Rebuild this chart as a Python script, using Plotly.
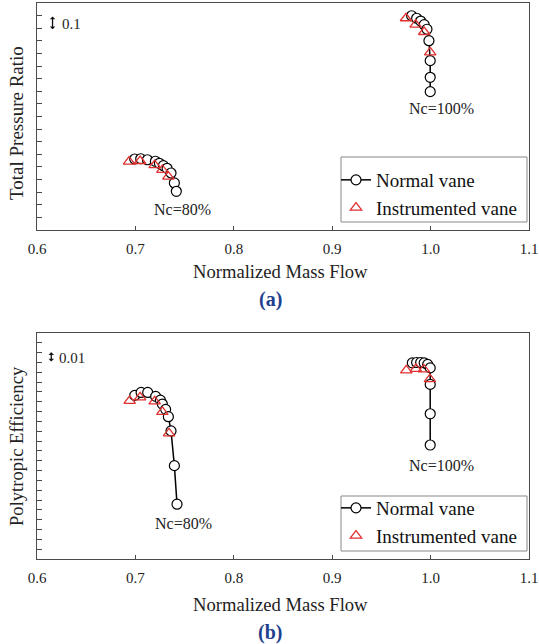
import plotly.graph_objects as go

# ---------------- data ----------------
# Panel (a): total pressure ratio (arbitrary offset; one tick = 0.1)
a_normal_80_x = [0.6993, 0.7054, 0.7122, 0.7203, 0.7244, 0.7284, 0.7322, 0.7362, 0.7396, 0.7416]
a_normal_80_y = [1.563, 1.565, 1.557, 1.545, 1.529, 1.510, 1.489, 1.452, 1.373, 1.307]
a_instr_80_x = [0.6936, 0.7048, 0.7196, 0.7274, 0.7335]
a_instr_80_y = [1.542, 1.547, 1.515, 1.476, 1.423]
a_normal_100_x = [0.9807, 0.9858, 0.9899, 0.9935, 0.9963, 0.9983, 0.9996, 0.9996, 0.9996]
a_normal_100_y = [2.699, 2.679, 2.657, 2.628, 2.592, 2.501, 2.343, 2.211, 2.097]
a_instr_100_x = [0.9750, 0.9848, 0.9935, 0.9996]
a_instr_100_y = [2.679, 2.628, 2.570, 2.409]

# Panel (b): polytropic efficiency (arbitrary offset; one tick = 0.01)
b_normal_80_x = [0.6993, 0.7058, 0.7125, 0.7206, 0.7254, 0.7274, 0.7307, 0.7335, 0.7362, 0.7396, 0.7423]
b_normal_80_y = [0.8665, 0.8695, 0.8695, 0.8655, 0.8617, 0.8577, 0.8523, 0.8448, 0.8303, 0.7950, 0.7558]
b_instr_80_x = [0.6942, 0.7048, 0.7196, 0.7274, 0.7342]
b_instr_80_y = [0.8610, 0.8645, 0.8604, 0.8498, 0.8279]
b_normal_100_x = [0.9814, 0.9858, 0.9899, 0.9935, 0.9970, 0.9996, 0.9996, 0.9996, 0.9996]
b_normal_100_y = [0.8996, 0.9000, 0.9000, 0.8996, 0.8980, 0.8945, 0.8777, 0.8478, 0.8160]
b_instr_100_x = [0.9753, 0.9851, 0.9932, 0.9993]
b_instr_100_y = [0.8919, 0.8935, 0.8929, 0.8830]

x_ticks = [0.6, 0.7, 0.8, 0.9, 1.0, 1.1]
x_tick_labels = ["0.6", "0.7", "0.8", "0.9", "1.0", "1.1"]
series_names = ["Normal vane", "Instrumented vane"]
speed_labels = ["Nc=80%", "Nc=100%"]

# ---------------- style ----------------
FONT = "Liberation Serif, Times New Roman, serif"
RED = "#e0302f"
FRAME = "#4a4a4a"
TITLE_BLUE = "#1f3f8f"

W, H = 539, 644
ML, MR, MT, MB = 37, 10, 3, 85
PH = H - MT - MB


def py(px):
    """pixel row -> paper y"""
    return 1 - (px - MT) / PH


def px_x(px):
    return (px - ML) / (W - ML - MR)


fig = go.Figure()


def join(x1, x2):
    return list(x1) + [None] + list(x2)


normal_marker = dict(symbol="circle", size=10, color="white", line=dict(color="black", width=1.2))
instr_marker = dict(symbol="triangle-up-open", size=10, color=RED, line=dict(color=RED, width=1.3))

# panel (a)
fig.add_trace(go.Scatter(
    x=join(a_normal_80_x, a_normal_100_x), y=join(a_normal_80_y, a_normal_100_y),
    mode="lines+markers", name=series_names[0], xaxis="x", yaxis="y",
    line=dict(color="black", width=1.5), marker=normal_marker,
    legend="legend", connectgaps=False))
fig.add_trace(go.Scatter(
    x=join(a_instr_80_x, a_instr_100_x), y=join(a_instr_80_y, a_instr_100_y),
    mode="markers", name=series_names[1], xaxis="x", yaxis="y",
    marker=instr_marker, legend="legend"))

# panel (b)
fig.add_trace(go.Scatter(
    x=join(b_normal_80_x, b_normal_100_x), y=join(b_normal_80_y, b_normal_100_y),
    mode="lines+markers", name=series_names[0], xaxis="x2", yaxis="y2",
    line=dict(color="black", width=1.5), marker=normal_marker,
    legend="legend2", connectgaps=False))
fig.add_trace(go.Scatter(
    x=join(b_instr_80_x, b_instr_100_x), y=join(b_instr_80_y, b_instr_100_y),
    mode="markers", name=series_names[1], xaxis="x2", yaxis="y2",
    marker=instr_marker, legend="legend2"))

xcommon = dict(range=[0.6, 1.1], tickmode="array", tickvals=x_ticks, ticktext=x_tick_labels,
               ticks="inside", ticklen=4, tickcolor=FRAME, showgrid=False, zeroline=False,
               showline=True, mirror=True, linecolor=FRAME, linewidth=1, automargin=False,
               ticklabelstandoff=5,
               tickfont=dict(family=FONT, size=15, color="#222"))
ycommon = dict(ticks="inside", ticklen=5, tickcolor=FRAME, showgrid=False, zeroline=False,
               showline=True, mirror=True, linecolor=FRAME, linewidth=1, showticklabels=False,
               tickmode="linear", automargin=False)

a_top, a_bot = py(3), py(230)
b_top, b_bot = py(333), py(559)

leg_common = dict(xanchor="left", yanchor="top", borderwidth=0, bgcolor="rgba(0,0,0,0)",
                  font=dict(family=FONT, size=19, color="#111"), itemwidth=30)

fig.update_layout(
    width=W, height=H,
    margin=dict(l=ML, r=MR, t=MT, b=MB, autoexpand=False),
    paper_bgcolor="white", plot_bgcolor="white",
    font=dict(family=FONT, color="#222"),
    xaxis=dict(**xcommon, domain=[0, 1], anchor="y"),
    yaxis=dict(**ycommon, domain=[a_bot, a_top], range=[1.0, 2.8], tick0=1.0, dtick=0.1, anchor="x"),
    xaxis2=dict(**xcommon, domain=[0, 1], anchor="y2"),
    yaxis2=dict(**ycommon, domain=[b_bot, b_top], range=[0.70, 0.93], tick0=0.70, dtick=0.01, anchor="x2"),
    legend=dict(x=px_x(336), y=py(161), **leg_common),
    legend2=dict(x=px_x(336), y=py(489), **leg_common),
    showlegend=True,
)

# legend frames
for (top, bot) in [(157, 222), (496, 551)]:
    fig.add_shape(type="rect", xref="paper", yref="paper",
                  x0=px_x(341), x1=px_x(527), y0=py(bot), y1=py(top),
                  line=dict(color="#888", width=1), fillcolor="white", layer="below")

TXT = dict(family=FONT, size=16, color="#222")
C = dict(xanchor="center", yanchor="middle", showarrow=False)
ann = []
# speed labels
ann.append(dict(x=0.7477, y=1.159, xref="x", yref="y", text=speed_labels[0], font=TXT, **C))
ann.append(dict(x=1.0115, y=1.967, xref="x", yref="y", text=speed_labels[1], font=TXT, **C))
ann.append(dict(x=0.7484, y=0.7365, xref="x2", yref="y2", text=speed_labels[0], font=TXT, **C))
ann.append(dict(x=1.0115, y=0.795, xref="x2", yref="y2", text=speed_labels[1], font=TXT, **C))

# scale indicators (double arrows)
ARROW = dict(text="", showarrow=True, arrowside="end+start", arrowhead=1, arrowsize=0.7,
             arrowwidth=1.3, arrowcolor="#111", standoff=0, startstandoff=0)
ann.append(dict(x=0.6158, y=2.692, ax=0.6158, ay=2.580, xref="x", yref="y", axref="x", ayref="y", **ARROW))
ann.append(dict(x=0.6235, y=2.636, xref="x", yref="y", text="0.1", showarrow=False, xanchor="left",
                yanchor="middle", font=dict(family=FONT, size=15, color="#222")))
ann.append(dict(x=0.6145, y=0.9104, ax=0.6145, ay=0.8994, xref="x2", yref="y2", axref="x2", ayref="y2", **ARROW))
ann.append(dict(x=0.6205, y=0.9049, xref="x2", yref="y2", text="0.01", showarrow=False, xanchor="left",
                yanchor="middle", font=dict(family=FONT, size=15, color="#222")))

# axis titles
TITLE = dict(family=FONT, size=18.6, color="#222")
ann.append(dict(x=px_x(280), y=py(271), xref="paper", yref="paper", text="Normalized Mass Flow",
                font=TITLE, **C))
ann.append(dict(x=px_x(280), y=py(604), xref="paper", yref="paper", text="Normalized Mass Flow",
                font=TITLE, **C))
ann.append(dict(x=px_x(16), y=py(123), xref="paper", yref="paper", text="Total Pressure Ratio",
                textangle=-90, font=dict(family=FONT, size=19, color="#222"), **C))
ann.append(dict(x=px_x(16), y=py(446), xref="paper", yref="paper", text="Polytropic Efficiency",
                textangle=-90, font=dict(family=FONT, size=18.6, color="#222"), **C))
# panel labels
ann.append(dict(x=px_x(270), y=py(299), xref="paper", yref="paper", text="<b>(a)</b>",
                font=dict(family=FONT, size=20, color=TITLE_BLUE), **C))
ann.append(dict(x=px_x(270), y=py(632), xref="paper", yref="paper", text="<b>(b)</b>",
                font=dict(family=FONT, size=20, color=TITLE_BLUE), **C))

fig.update_layout(annotations=ann)
fig.write_html("out.html", config={"displayModeBar": False},
               post_script="document.body.style.margin='0';document.body.style.overflow='hidden';")
